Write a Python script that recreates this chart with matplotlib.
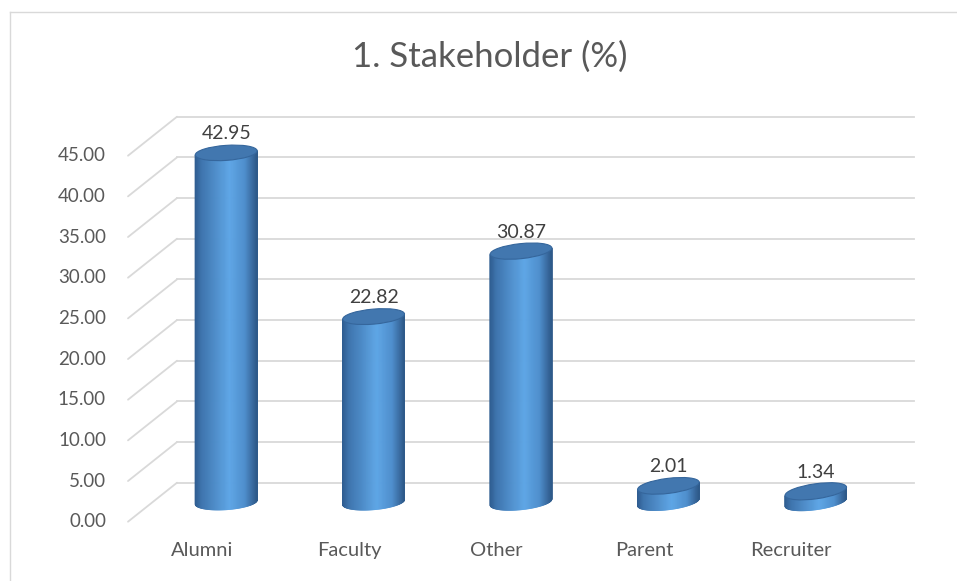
import matplotlib
matplotlib.use("Agg")
import matplotlib.pyplot as plt
import numpy as np
from matplotlib.transforms import Affine2D, ScaledTranslation
from matplotlib.colors import LinearSegmentedColormap
from matplotlib.patches import Ellipse, ConnectionPatch
from matplotlib.collections import PolyCollection
from matplotlib.lines import Line2D

# data
categories = ["Alumni", "Faculty", "Other", "Parent", "Recruiter"]
values = [42.95, 22.82, 30.87, 2.01, 1.34]
y_ticks = [0, 5, 10, 15, 20, 25, 30, 35, 40, 45]
title = "1. Stakeholder (%)"

plt.rcParams['font.family'] = ['Lato', 'DejaVu Sans']

DPI = 100
W, H = 957, 581
fig = plt.figure(figsize=(W / DPI, H / DPI), dpi=DPI)

# back wall of the 3d plot
ax = fig.add_axes([177 / W, (H - 482.7) / H, (914 - 177) / W, (482.7 - 116.7) / H])
ax.set_xlim(-0.5, len(categories) - 0.5)
ax.set_ylim(0, 45)
ax.axis('off')

# depth shift from back wall to front edge, in pixels
dx, dy = -49, -39
front = ax.transData + ScaledTranslation(dx / DPI, dy / DPI, fig.dpi_scale_trans)
mid = ax.transData + ScaledTranslation(dx / 2 / DPI, dy / 2 / DPI, fig.dpi_scale_trans)

grid_c = '#d9d9d9'
text_c = '#595959'
xmin, xmax = ax.get_xlim()
for t in y_ticks:
    ax.plot([xmin, xmax], [t, t], color=grid_c, lw=1.3, clip_on=False, zorder=1)
    con = ConnectionPatch(xyA=(xmin, t), coordsA=front, xyB=(xmin, t), coordsB=ax.transData,
                          color=grid_c, lw=1.3, zorder=1)
    fig.add_artist(con)
    ax.text(xmin, t, f"{t:.2f}", transform=front + ScaledTranslation(-22 / DPI, 0, fig.dpi_scale_trans),
            ha='right', va='center', fontsize=13.5, color=text_c)

for i, cat in enumerate(categories):
    ax.text(i, 0, cat, transform=front + ScaledTranslation(0, -29 / DPI, fig.dpi_scale_trans),
            ha='center', va='center', fontsize=14.5, color=text_c)

# cylinders
body_cmap = LinearSegmentedColormap.from_list(
    'body', [(0.0, '#2f5d91'), (0.1, '#3f75ae'), (0.55, '#5ea6e6'),
             (0.8, '#4f8fcd'), (0.93, '#3a6ba0'), (1.0, '#2e5a8a')])
a, b = 31, 7.5
angles = [4, 5, 6, 7, 8]

for i, v in enumerate(values):
    th = np.radians(angles[i])
    base = Affine2D() + ScaledTranslation(i, 0, mid)
    h = mid.transform((i, v))[1] - mid.transform((i, 0))[1]
    tt = np.linspace(np.pi, 2 * np.pi, 90)
    ex, ey = a * np.cos(tt), b * np.sin(tt)
    px = ex * np.cos(th) - ey * np.sin(th)
    py = ex * np.sin(th) + ey * np.cos(th)
    quads = [[(px[k], py[k]), (px[k + 1], py[k + 1]), (px[k + 1], py[k + 1] + h), (px[k], py[k] + h)]
             for k in range(len(tt) - 1)]
    cols = body_cmap((px[:-1] - px.min()) / (px.max() - px.min()))
    pc = PolyCollection(quads, facecolors=cols, edgecolors=cols, lw=0.6, transform=base,
                        zorder=3, clip_on=False)
    ax.add_collection(pc)
    top = Ellipse((0, h), 2 * a, 2 * b, angle=angles[i], transform=base,
                  facecolor='#4277af', edgecolor='#35669c', lw=0.8, zorder=4, clip_on=False)
    ax.add_patch(top)
    ax.annotate(f"{v:.2f}", xy=(i, v), xycoords=mid, xytext=(0, 19 * 72 / DPI),
                textcoords='offset points', ha='center', va='center',
                fontsize=14, color='#404040', zorder=5)

fig.text(490 / W, 1 - 57 / H, title, ha='center', va='center', fontsize=25, color=text_c)

# chart area border
fig.add_artist(Line2D([9.5 / W, 9.5 / W], [0, 1 - 11.5 / H], transform=fig.transFigure, color=grid_c, lw=1))
fig.add_artist(Line2D([9.5 / W, 1], [1 - 11.5 / H, 1 - 11.5 / H], transform=fig.transFigure, color=grid_c, lw=1))

fig.savefig("out.png", dpi=DPI)
